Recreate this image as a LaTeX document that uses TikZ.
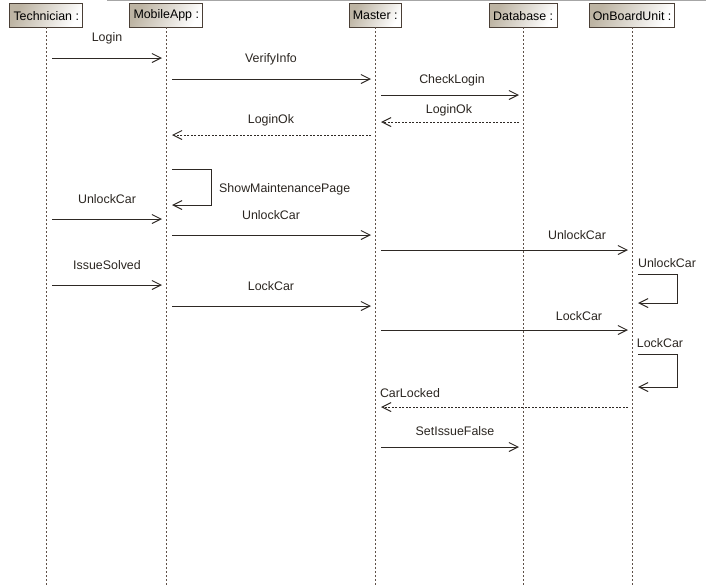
\documentclass[tikz,border=0pt]{standalone}
\usepackage{fontspec}
\setmainfont{Liberation Sans}
\usetikzlibrary{arrows.meta}
\definecolor{hdrfill}{HTML}{BDB4A3}
\definecolor{hdrdraw}{HTML}{4A3F36}
\definecolor{lifecol}{HTML}{5E5048}
\definecolor{msgcol}{HTML}{2E2924}
\definecolor{txtcol}{HTML}{2A2520}
\tikzset{
  hdr/.style={draw=hdrdraw, line width=0.9pt, left color=hdrfill, right color=white, shading angle=60,
    inner sep=0pt, text=black, font=\fontsize{12.4}{14}\selectfont, anchor=north west},
  life/.style={draw=lifecol, line width=0.8pt, dash pattern=on 2pt off 2pt},
  msg/.style={draw=msgcol, line width=1pt, -{Straight Barb[length=9pt,width=9pt,line width=1pt]}},
  ret/.style={msg, dash pattern=on 2pt off 1.5pt},
  lbl/.style={text=txtcol, font=\fontsize{12.4}{14}\selectfont, inner sep=0pt},
}
\begin{document}
\begin{tikzpicture}[x=1pt,y=-1pt]
\useasboundingbox (0,0) rectangle (706,587);
\draw[color=black!35, line width=1.5pt] (107,0.5) -- (706,0.5);

% headers
\node[hdr, minimum width=73pt, minimum height=24pt] (tech) at (9.3,3.3) {Technician :};
\node[hdr, minimum width=73pt, minimum height=24pt] (app) at (129.3,3.3) {MobileApp :};
\node[hdr, minimum width=51.5pt, minimum height=24pt] (mst) at (349,3.3) {Master :};
\node[hdr, minimum width=67.5pt, minimum height=24pt] (db) at (489,3.3) {Database :};
\node[hdr, minimum width=85.3pt, minimum height=24pt] (obu) at (589,3.3) {OnBoardUnit :};

% lifelines
\coordinate (techE) at (46,587);
\coordinate (appE) at (166,587);
\coordinate (mstE) at (375,587);
\coordinate (dbE) at (523,587);
\coordinate (obuE) at (632.5,587);
\draw[life] (46,27.3) -- (techE);
\draw[life] (166,27.3) -- (appE);
\draw[life] (375,27.3) -- (mstE);
\draw[life] (523,27.3) -- (dbE);
\draw[life] (632.5,27.3) -- (obuE);

% message end points
\coordinate (a1) at (52,58);   \coordinate (b1) at (162,58);
\coordinate (a2) at (172,79);  \coordinate (b2) at (371,79);
\coordinate (a3) at (381,95);  \coordinate (b3) at (519,95);
\coordinate (a4) at (519,122); \coordinate (b4) at (381,122);
\coordinate (a5) at (371,135); \coordinate (b5) at (172,135);
\coordinate (a6) at (172,169); \coordinate (b6) at (172,205);
\coordinate (a7) at (52,219);  \coordinate (b7) at (162,219);
\coordinate (a8) at (172,235); \coordinate (b8) at (371,235);
\coordinate (a9) at (381,250); \coordinate (b9) at (628,250);
\coordinate (a10) at (638,274); \coordinate (b10) at (638,303);
\coordinate (a11) at (52,285); \coordinate (b11) at (162,285);
\coordinate (a12) at (172,306); \coordinate (b12) at (371,306);
\coordinate (a13) at (381,330); \coordinate (b13) at (628,330);
\coordinate (a14) at (638,354); \coordinate (b14) at (638,387);
\coordinate (a15) at (628,407); \coordinate (b15) at (381,407);
\coordinate (a16) at (381,447); \coordinate (b16) at (519,447);

% messages
\draw[msg] (a1) -- (b1);
\draw[msg] (a2) -- (b2);
\draw[msg] (a3) -- (b3);
\draw[ret] (a4) -- (b4);
\draw[ret] (a5) -- (b5);
\draw[msg] (a6) -- (211,169) -- (211,205) -- (b6);
\draw[msg] (a7) -- (b7);
\draw[msg] (a8) -- (b8);
\draw[msg] (a9) -- (b9);
\draw[msg] (a10) -- (677,274) -- (677,303) -- (b10);
\draw[msg] (a11) -- (b11);
\draw[msg] (a12) -- (b12);
\draw[msg] (a13) -- (b13);
\draw[msg] (a14) -- (677,354) -- (677,387) -- (b14);
\draw[ret] (a15) -- (b15);
\draw[msg] (a16) -- (b16);

% labels
\node[lbl] (l1) at (107,38) {Login};
\node[lbl] (l2) at (271,59) {VerifyInfo};
\node[lbl] (l3) at (452,80.5) {CheckLogin};
\node[lbl] (l4) at (449,110.5) {LoginOk};
\node[lbl] (l5) at (271,120) {LoginOk};
\node[lbl, anchor=west] (l6) at (219,189.5) {ShowMaintenancePage};
\node[lbl] (l7) at (107,199) {UnlockCar};
\node[lbl] (l8) at (271,215) {UnlockCar};
\node[lbl] (l9) at (577,235.5) {UnlockCar};
\node[lbl] (l10) at (667,263.5) {UnlockCar};
\node[lbl] (l11) at (107,265) {IssueSolved};
\node[lbl] (l12) at (271,286) {LockCar};
\node[lbl] (l13) at (579,316) {LockCar};
\node[lbl] (l14) at (660,343) {LockCar};
\node[lbl] (l15) at (410,393) {CarLocked};
\node[lbl] (l16) at (455,431) {SetIssueFalse};
\end{tikzpicture}
\end{document}
